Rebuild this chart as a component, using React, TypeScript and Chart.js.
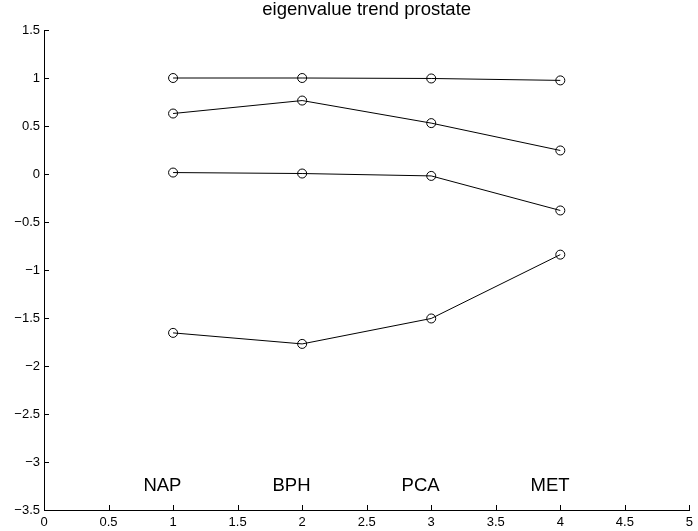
import React, { useEffect, useRef } from "react";
import { Chart, registerables } from "chart.js";

Chart.register(...registerables);

// ---- data ----
const stageNames = ["NAP", "BPH", "PCA", "MET"];
const stageX = [1, 2, 3, 4];
const eigen1 = [1.0, 1.0, 0.995, 0.975];
const eigen2 = [0.63, 0.765, 0.53, 0.245];
const eigen3 = [0.015, 0.005, -0.02, -0.38];
const eigen4 = [-1.655, -1.77, -1.505, -0.84];
const stageLabelY = -3.25;
const stageLabelShift = -0.23;
const titleText = "eigenvalue trend prostate";

const FONT = "'Liberation Sans', Arial, Helvetica, sans-serif";

const fmt = (v: number) => {
  const a = Math.abs(v);
  return (v < 0 ? "\u2212" : "") + String(Math.round(a * 10) / 10);
};

const decorPlugin = {
  id: "decor",
  afterDatasetsDraw(chart: any) {
    const { ctx, chartArea } = chart;
    const xs = chart.scales.x;
    const ys = chart.scales.y;
    ctx.save();
    ctx.strokeStyle = "#000";
    ctx.lineWidth = 1;
    // inward ticks
    ctx.beginPath();
    for (const t of xs.ticks) {
      const px = Math.round(xs.getPixelForValue(t.value)) + 0.5;
      ctx.moveTo(px, chartArea.bottom);
      ctx.lineTo(px, chartArea.bottom - 5);
    }
    for (const t of ys.ticks) {
      const py = Math.round(ys.getPixelForValue(t.value)) + 0.5;
      ctx.moveTo(chartArea.left, py);
      ctx.lineTo(chartArea.left + 5, py);
    }
    ctx.stroke();
    // stage labels
    ctx.fillStyle = "#000";
    ctx.font = `18.5px ${FONT}`;
    ctx.textAlign = "left";
    ctx.textBaseline = "middle";
    stageNames.forEach((name, i) => {
      ctx.fillText(
        name,
        xs.getPixelForValue(stageX[i] + stageLabelShift),
        ys.getPixelForValue(stageLabelY)
      );
    });
    // title
    ctx.textAlign = "center";
    ctx.textBaseline = "middle";
    ctx.font = `18.5px ${FONT}`;
    ctx.fillText(titleText, (chartArea.left + chartArea.right) / 2, 10);
    ctx.restore();
  },
};

function makeSet(data: number[]) {
  return {
    data: data.map((v, i) => ({ x: stageX[i], y: v })),
    borderColor: "#000",
    borderWidth: 1,
    pointStyle: "circle",
    pointRadius: 4.5,
    pointBorderWidth: 1,
    pointBorderColor: "#000",
    pointBackgroundColor: "rgba(0,0,0,0)",
    fill: false,
    tension: 0,
  };
}

export default function App() {
  const ref = useRef<HTMLCanvasElement | null>(null);
  useEffect(() => {
    if (!ref.current) return;
    const chart = new Chart(ref.current, {
      type: "line",
      data: {
        datasets: [makeSet(eigen1), makeSet(eigen2), makeSet(eigen3), makeSet(eigen4)] as any,
      },
      options: {
        animation: false,
        responsive: false,
        devicePixelRatio: 1,
        layout: { padding: { top: 30, left: 0, right: 7, bottom: 0 } },
        plugins: {
          legend: { display: false },
          title: { display: false },
          tooltip: { enabled: false },
        },
        scales: {
          x: {
            type: "linear",
            min: 0,
            max: 5,
            afterFit: (s: any) => {
              s.height = 21;
            },
            grid: { display: true, drawOnChartArea: false, drawTicks: false },
            border: { display: true, color: "#000", width: 1 },
            ticks: {
              stepSize: 0.5,
              color: "#000",
              padding: 5,
              maxRotation: 0,
              autoSkip: false,
              font: { family: FONT, size: 13 },
              callback: (v: any) => fmt(Number(v)),
            },
          },
          y: {
            type: "linear",
            min: -3.5,
            max: 1.5,
            afterFit: (s: any) => {
              s.width = 44;
            },
            grid: { display: true, drawOnChartArea: false, drawTicks: false },
            border: { display: true, color: "#000", width: 1 },
            ticks: {
              stepSize: 0.5,
              color: "#000",
              padding: 4,
              autoSkip: false,
              font: { family: FONT, size: 13 },
              callback: (v: any) => fmt(Number(v)),
            },
          },
        },
      } as any,
      plugins: [decorPlugin],
    });
    return () => chart.destroy();
  }, []);
  return (
    <canvas
      ref={ref}
      width={698}
      height={531}
      style={{ position: "absolute", left: 0, top: 0, display: "block", background: "#fff" }}
    />
  );
}
